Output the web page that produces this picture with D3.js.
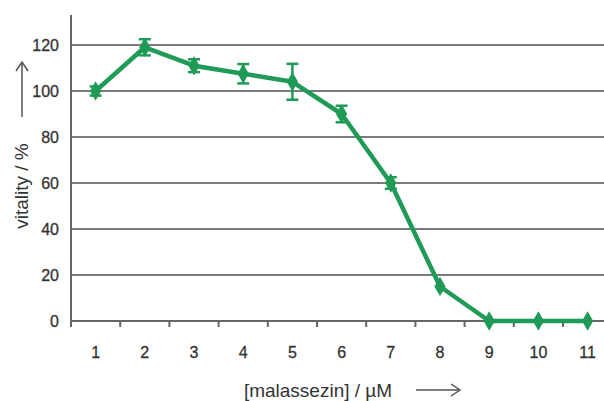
<!DOCTYPE html>
<html>
<head>
<meta charset="utf-8">
<script src="https://cdn.jsdelivr.net/npm/d3@7"></script>
<style>
  body { margin: 0; background: #fff; }
  svg { display: block; }
</style>
</head>
<body>
<div id="chart"></div>
<script>
// concentration categories, vitality means and error bar half-widths
var categories = ["1", "2", "3", "4", "5", "6", "7", "8", "9", "10", "11"];
var vitality = [100, 119, 111, 107.5, 104, 90, 60, 15, 0, 0, 0];
var errors = [2, 3.5, 2.8, 4.2, 7.8, 3.6, 2.5, 0, 0, 0, 0];
var yTicks = [0, 20, 40, 60, 80, 100, 120];

var outerWidth = 604;
var outerHeight = 401;
var x0 = 71;      // y axis position
var bandW = 49.2;
var green = "#1f9a57";
var textColor = "#333";
var narrow = "Liberation Sans Narrow, Arial Narrow, Liberation Sans, sans-serif";

var svg = d3.select("#chart").append("svg")
  .attr("width", outerWidth)
  .attr("height", outerHeight);

var x = d3.scaleBand()
  .domain(categories)
  .range([x0, x0 + bandW * categories.length]);

var y = d3.scaleLinear()
  .domain([0, 120])
  .range([321, 45]);

// gridlines
svg.append("g").selectAll("line")
  .data(yTicks.filter(function (d) { return d > 0; }))
  .join("line")
  .attr("x1", x0).attr("x2", outerWidth)
  .attr("y1", function (d) { return y(d); })
  .attr("y2", function (d) { return y(d); })
  .attr("stroke", "#7a7a7a")
  .attr("stroke-width", 2);

// x axis line + ticks between categories
var xAxis = svg.append("g");
xAxis.append("line")
  .attr("x1", x0).attr("x2", outerWidth)
  .attr("y1", y(0)).attr("y2", y(0))
  .attr("stroke", "#666").attr("stroke-width", 2);
xAxis.selectAll("line.tick")
  .data(categories)
  .join("line").attr("class", "tick")
  .attr("x1", function (d) { return x(d) + bandW; })
  .attr("x2", function (d) { return x(d) + bandW; })
  .attr("y1", y(0)).attr("y2", y(0) + 6)
  .attr("stroke", "#666").attr("stroke-width", 2);
xAxis.selectAll("text")
  .data(categories)
  .join("text")
  .attr("x", function (d) { return x(d) + bandW / 2; })
  .attr("y", 358)
  .attr("text-anchor", "middle")
  .attr("font-family", narrow)
  .attr("font-size", "16px")
  .attr("fill", textColor)
  .attr("stroke", textColor).attr("stroke-width", 0.3)
  .text(function (d) { return d; });

// y axis
svg.append("line")
  .attr("x1", x0).attr("x2", x0)
  .attr("y1", 15).attr("y2", y(0) + 6)
  .attr("stroke", "#666").attr("stroke-width", 2);
svg.append("g").selectAll("text")
  .data(yTicks)
  .join("text")
  .attr("x", 59)
  .attr("y", function (d) { return y(d) + 6; })
  .attr("text-anchor", "end")
  .attr("font-family", narrow)
  .attr("font-size", "16px")
  .attr("fill", textColor)
  .attr("stroke", textColor).attr("stroke-width", 0.3)
  .text(function (d) { return d; });

// axis titles with arrows
svg.append("text")
  .attr("transform", "translate(28,186) rotate(-90)")
  .attr("text-anchor", "middle")
  .attr("font-family", "Liberation Sans, Arial, sans-serif")
  .attr("font-size", "19px")
  .attr("fill", textColor)
  .text("vitality / %");
svg.append("line")
  .attr("x1", 22).attr("x2", 22).attr("y1", 117).attr("y2", 62)
  .attr("stroke", "#555").attr("stroke-width", 1.5);
svg.append("path")
  .attr("d", "M16,71 L22,62 L28,71")
  .attr("fill", "none").attr("stroke", "#555").attr("stroke-width", 1.5);

svg.append("text")
  .attr("x", 318).attr("y", 397)
  .attr("text-anchor", "middle")
  .attr("font-family", "Liberation Sans, Arial, sans-serif")
  .attr("font-size", "19px")
  .attr("fill", textColor)
  .text("[malassezin] / \u00b5M");
svg.append("line")
  .attr("x1", 416).attr("x2", 460).attr("y1", 390).attr("y2", 390)
  .attr("stroke", "#555").attr("stroke-width", 1.5);
svg.append("path")
  .attr("d", "M451,384 L460,390 L451,396")
  .attr("fill", "none").attr("stroke", "#555").attr("stroke-width", 1.5);

// data
var pts = categories.map(function (c, i) {
  return { c: c, v: vitality[i], e: errors[i] };
});
var cx = function (d) { return x(d.c) + bandW / 2; };

svg.append("path")
  .datum(pts)
  .attr("fill", "none")
  .attr("stroke", green)
  .attr("stroke-width", 4.5)
  .attr("stroke-linejoin", "round")
  .attr("d", d3.line().x(cx).y(function (d) { return y(d.v); }));

var eb = svg.append("g").attr("stroke", green).attr("stroke-width", 2.5);
pts.filter(function (d) { return d.e > 0; }).forEach(function (d) {
  var px = cx(d);
  eb.append("line").attr("x1", px).attr("x2", px)
    .attr("y1", y(d.v + d.e)).attr("y2", y(d.v - d.e));
  eb.append("line").attr("x1", px - 6).attr("x2", px + 6)
    .attr("y1", y(d.v + d.e)).attr("y2", y(d.v + d.e));
  eb.append("line").attr("x1", px - 6).attr("x2", px + 6)
    .attr("y1", y(d.v - d.e)).attr("y2", y(d.v - d.e));
});

svg.append("g").selectAll("path")
  .data(pts)
  .join("path")
  .attr("transform", function (d) { return "translate(" + cx(d) + "," + y(d.v) + ")"; })
  .attr("d", d3.symbol(d3.symbolDiamond, 110))
  .attr("fill", green);
</script>
</body>
</html>
